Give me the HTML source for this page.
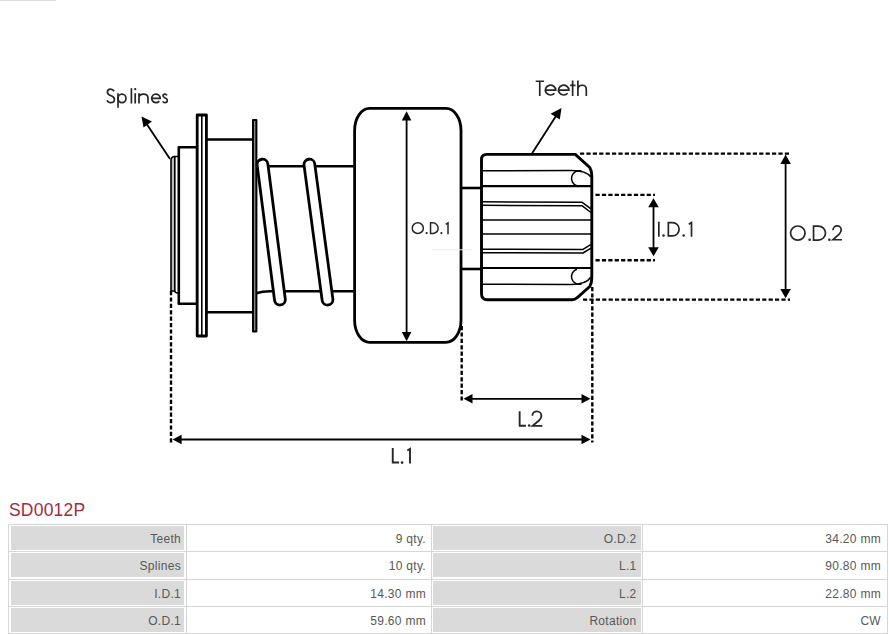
<!DOCTYPE html>
<html><head><meta charset="utf-8">
<style>
html,body{margin:0;padding:0;background:#fff;}
body{width:889px;height:634px;position:relative;overflow:hidden;font-family:"Liberation Sans",sans-serif;}
svg{position:absolute;left:0;top:0;}
.t{position:absolute;white-space:nowrap;}
.title{left:9px;top:500px;font-size:17.5px;letter-spacing:0.2px;color:#a52a3a;}
.hl{position:absolute;left:8px;width:880px;height:1px;background:#d6d6d6;}
.vl{position:absolute;top:524px;width:1px;height:110px;background:#d6d6d6;}
.g{position:absolute;background:#dadada;height:24px;}
.c{position:absolute;font-size:12px;color:#585858;letter-spacing:0.3px;text-align:right;height:24px;line-height:26px;}
</style></head><body>
<svg width="889" height="634" viewBox="0 0 889 634">
<g fill="none" stroke="#000" stroke-linejoin="round">
  <!-- splines strip -->
  <path d="M171 291 L171 160.5 Q171 156.5 174.8 156.5 L174.8 291 Z" fill="#bbb" stroke-width="1.6"/>
  <path d="M174.5 156.5 L178.8 156.5 M174.5 291 Q175.5 293.3 178.8 293.3" stroke-width="1.6"/>
  <!-- hub -->
  <rect x="178.8" y="147.3" width="18.4" height="156.4" stroke-width="2.6"/>
  <!-- thick flange -->
  <rect x="197.2" y="115" width="9.2" height="221" stroke-width="2.8" fill="#fff"/>
  <line x1="201.8" y1="115" x2="201.8" y2="336" stroke-width="1.6"/>
  <!-- cylinder -->
  <line x1="206.4" y1="139.5" x2="252.3" y2="139.5" stroke-width="2.6"/>
  <line x1="206.4" y1="312.2" x2="252.3" y2="312.2" stroke-width="2.6"/>
  <!-- thin flange -->
  <rect x="253" y="120" width="3.4" height="211.5" fill="#888" stroke-width="2"/>
  <!-- shaft -->
  <line x1="256.4" y1="166.2" x2="354.6" y2="166.2" stroke-width="2.6"/>
  <path d="M256.4 293.2 Q262 291.3 270 291.3 L354.6 291.3" stroke-width="2.6"/>
  <!-- coils -->
  <g stroke-linecap="round">
    <line x1="262.5" y1="164.6" x2="279.9" y2="299.6" stroke-width="13.6"/>
    <line x1="262.5" y1="164.6" x2="279.9" y2="299.6" stroke-width="8" stroke="#fff"/>
    <line x1="309.4" y1="164.6" x2="327.5" y2="299.6" stroke-width="13.6"/>
    <line x1="309.4" y1="164.6" x2="327.5" y2="299.6" stroke-width="8" stroke="#fff"/>
  </g>
  <!-- body -->
  <rect x="354.6" y="108.4" width="106.4" height="233.9" rx="15" ry="22" stroke-width="2.8" fill="#fff"/>
  <line x1="432" y1="249.8" x2="472" y2="249.8" stroke="#ececec" stroke-width="1"/>
  <!-- connector -->
  <line x1="461" y1="188" x2="481.5" y2="188" stroke-width="2.6"/>
  <line x1="461" y1="269" x2="481.5" y2="269" stroke-width="2.6"/>
  <!-- gear outline -->
  <path d="M481.5 159.6 Q481.5 154.4 486.7 154.4 L575.3 154.4 L589.8 167.5 Q591.8 171 591.8 176 L591.8 278 Q591.8 283 589.8 286.5 L577 297.8 Q575 299.8 572 299.8 L487.5 299.8 Q481.5 299.8 481.5 293.8 Z" stroke-width="2.9" fill="#fff"/>
  <!-- teeth -->
  <g stroke-width="1.5">
    <path d="M481.5 170.8 L570 170.4 Q586 170 591 177"/>
    <path d="M581.5 171 A7.5 7.5 0 0 0 577 185.8"/>
    <line x1="481.5" y1="186.2" x2="591.8" y2="186.2" stroke-width="2.2"/>
    <path d="M481.5 201.8 L582.2 202.3 L591 208.8"/>
    <path d="M481.5 205.3 L582.2 205.8 L591 212.5"/>
    <line x1="481.5" y1="220" x2="591.8" y2="220"/>
    <line x1="481.5" y1="234" x2="591.8" y2="234"/>
    <path d="M481.5 249.2 L583 249.4 L591 244.4"/>
    <path d="M481.5 252.8 L583 253 L591 248.2"/>
    <line x1="481.5" y1="268" x2="591.8" y2="268" stroke-width="2.2"/>
    <path d="M481.5 284.2 L570 284.5 Q586 284.8 591 277"/>
    <path d="M581.5 284 A7.5 7.5 0 0 1 577 269.2"/>
  </g>
  <!-- dashed lines -->
  <g stroke-width="2.4" stroke-dasharray="4.2 2.2">
    <line x1="580" y1="153.6" x2="790" y2="153.6"/>
    <line x1="583" y1="299.6" x2="790" y2="299.6"/>
    <line x1="595.5" y1="194.9" x2="655" y2="194.9"/>
    <line x1="595.5" y1="260.3" x2="655" y2="260.3"/>
    <line x1="171" y1="291" x2="171" y2="443"/>
    <line x1="461.7" y1="326" x2="461.7" y2="402"/>
    <line x1="592.3" y1="287" x2="592.3" y2="442.5"/>
  </g>
  <!-- dimension lines -->
  <g stroke-width="1.8">
    <line x1="406.6" y1="118" x2="406.6" y2="334"/>
    <line x1="653.5" y1="205" x2="653.5" y2="249"/>
    <line x1="785.6" y1="162" x2="785.6" y2="291"/>
    <line x1="470" y1="398.8" x2="584" y2="398.8"/>
    <line x1="180" y1="439.5" x2="582" y2="439.5" stroke-width="1.8"/>
    <line x1="532" y1="153.5" x2="556" y2="116"/>
    <line x1="170" y1="159" x2="146" y2="123"/>
  </g>
</g>
<g fill="#000">
  <path d="M406.6 111.2 L411.4 120.5 L401.8 120.5 Z"/>
  <path d="M406.6 341.3 L411.4 332 L401.8 332 Z"/>
  <path d="M653.5 198.3 L658.8 207.3 L648.2 207.3 Z"/>
  <path d="M653.5 256.3 L658.8 247.3 L648.2 247.3 Z"/>
  <path d="M785.6 154.6 L790.8 164 L780.4 164 Z"/>
  <path d="M785.6 298.3 L790.8 289 L780.4 289 Z"/>
  <path d="M463.5 398.8 L472.5 394 L472.5 403.6 Z"/>
  <path d="M590.5 398.8 L581.5 394 L581.5 403.6 Z"/>
  <path d="M172.6 439.5 L181.6 434.7 L181.6 444.3 Z"/>
  <path d="M590.5 439.5 L581.5 434.7 L581.5 444.3 Z"/>
  <path d="M561.5 108 L559.8 119.5 L550.6 113.8 Z"/>
  <path d="M141.5 116.5 L152 121.5 L143.5 127.5 Z"/>
</g>
<g fill="none" stroke="#262626" stroke-width="1.7">
  <!-- Splines -->
  <path d="M114.2 91.3 C113.3 89.8 112 89.05 110.6 89.05 C108.6 89.05 107.4 90.4 107.4 92.2 C107.4 94.3 109.3 95.1 111.1 95.8 C113.2 96.6 114.4 97.7 114.4 99.5 C114.4 101.4 112.9 102.65 110.8 102.65 C108.9 102.65 107.6 101.7 107 100.2"/>
  <path d="M118 93.2 V107.7"/>
  <ellipse cx="122" cy="98.35" rx="4" ry="4.3"/>
  <path d="M131.4 88.2 V103.5"/>
  <path d="M135.2 93.2 V103.5"/>
  <path d="M139 93.2 V103.5 M139 97.5 C139 95.2 140.8 94.05 143.5 94.05 C146.2 94.05 148 95.5 148 98 V103.5"/>
  <path d="M151.65 98.35 H160.25 A4.3 4.3 0 1 0 159.3 101.1"/>
  <path d="M167 95.4 C166.5 94.5 165.6 94.05 164.8 94.05 C163.7 94.05 163 94.8 163 95.8 C163 97 164.2 97.5 165.3 98 C166.5 98.5 167.3 99.3 167.3 100.5 C167.3 101.8 166.3 102.65 165 102.65 C163.9 102.65 163.1 102.1 162.7 101.3"/>
  <!-- Teeth -->
  <path d="M535.7 81.25 H544.1 M539.75 81.25 V95.9"/>
  <path d="M545.35 90.15 H555.75 A5.2 4.9 0 1 0 554.5 93.3"/>
  <path d="M558.5 90.15 H568.9 A5.2 4.9 0 1 0 567.65 93.3"/>
  <path d="M572.65 80.4 V95.9 M570.1 85.3 H575.5"/>
  <path d="M577.9 80.4 V95.9 M577.9 89.5 C577.9 86.9 579.8 85.25 582.2 85.25 C584.7 85.25 586.3 86.9 586.3 89.5 V95.9"/>
</g>
<circle cx="135.2" cy="89.2" r="1.15" fill="#262626"/>
<g fill="none" stroke="#262626" stroke-linecap="butt" stroke-linejoin="miter">
  <!-- O.D.1 -->
  <g stroke-width="1.5">
    <ellipse cx="417.8" cy="228.15" rx="5.55" ry="5.3"/>
    <path d="M430.55 222.85 L432.85 222.85 A5.3 5.3 0 0 1 432.85 233.45 L430.55 233.45 Z"/>
    <path d="M445.8 224.3 L448 222.85 V234.2"/>
  </g>
  <!-- I.D.1 -->
  <g stroke-width="1.7">
    <path d="M658.85 221.7 V236.8"/>
    <path d="M668.35 222.55 L672.45 222.55 A6.7 6.7 0 0 1 672.45 235.95 L668.35 235.95 Z"/>
    <path d="M688.8 224.3 L691.5 222.55 V236.8"/>
  </g>
  <!-- O.D.2 -->
  <g stroke-width="1.7">
    <ellipse cx="797.8" cy="233.05" rx="7.25" ry="7.05"/>
    <path d="M813.55 226.05 L818.3 226.05 A7.2 7.0 0 0 1 818.3 240.05 L813.55 240.05 Z"/>
    <path d="M833 230.2 C833 227.5 835 225.85 837.2 225.85 C839.5 225.85 841.2 227.6 841.2 229.9 C841.2 231.6 840.4 232.9 839.2 234.2 L832.9 239.75 L842 239.75"/>
  </g>
  <!-- L.2 -->
  <g stroke-width="1.85">
    <path d="M519.65 411.3 V425.7 H525.9"/>
    <path d="M532.4 415.8 C532.4 413 534.6 411.4 536.9 411.4 C539.4 411.4 541.4 413.3 541.4 415.7 C541.4 417.6 540.6 418.9 539.3 420.2 L532.6 425.8 L542.3 425.8"/>
  </g>
  <!-- L.1 -->
  <g stroke-width="1.9">
    <path d="M392.75 448 V462.55 H399.1"/>
    <path d="M407.3 450.5 L410 448.95 V463.5"/>
  </g>
</g>
<g fill="#262626">
  <circle cx="426.6" cy="233.1" r="1.1"/><circle cx="441.4" cy="233.1" r="1.1"/>
  <circle cx="663.5" cy="235.6" r="1.25"/><circle cx="683.6" cy="235.6" r="1.25"/>
  <circle cx="809.65" cy="239.7" r="1.3"/><circle cx="829.35" cy="239.7" r="1.3"/>
  <circle cx="529.15" cy="425.6" r="1.25"/>
  <circle cx="402.1" cy="462.6" r="1.3"/>
</g>
</svg>

<div style="position:absolute;left:0;top:0;width:56px;height:1px;background:#dcdcdc"></div>
<div class="t title">SD0012P</div>

<div class="hl" style="top:524px"></div>
<div class="hl" style="top:551px"></div>
<div class="hl" style="top:579px"></div>
<div class="hl" style="top:606px"></div>
<div class="hl" style="top:633px"></div>
<div class="vl" style="left:8px"></div>
<div class="vl" style="left:186px"></div>
<div class="vl" style="left:431px"></div>
<div class="vl" style="left:642px"></div>
<div class="vl" style="left:887px"></div>
<div class="g" style="left:11px;width:173px;top:526px"></div>
<div class="g" style="left:433px;width:208px;top:526px"></div>
<div class="g" style="left:11px;width:173px;top:553px"></div>
<div class="g" style="left:433px;width:208px;top:553px"></div>
<div class="g" style="left:11px;width:173px;top:581px"></div>
<div class="g" style="left:433px;width:208px;top:581px"></div>
<div class="g" style="left:11px;width:173px;top:608px"></div>
<div class="g" style="left:433px;width:208px;top:608px"></div>
<div class="c" style="left:11px;width:170px;top:526px">Teeth</div>
<div class="c" style="left:186px;width:240px;top:526px">9 qty.</div>
<div class="c" style="left:433px;width:203.5px;top:526px">O.D.2</div>
<div class="c" style="left:643px;width:238px;top:526px">34.20 mm</div>
<div class="c" style="left:11px;width:170px;top:553px">Splines</div>
<div class="c" style="left:186px;width:240px;top:553px">10 qty.</div>
<div class="c" style="left:433px;width:203.5px;top:553px">L.1</div>
<div class="c" style="left:643px;width:238px;top:553px">90.80 mm</div>
<div class="c" style="left:11px;width:170px;top:581px">I.D.1</div>
<div class="c" style="left:186px;width:240px;top:581px">14.30 mm</div>
<div class="c" style="left:433px;width:203.5px;top:581px">L.2</div>
<div class="c" style="left:643px;width:238px;top:581px">22.80 mm</div>
<div class="c" style="left:11px;width:170px;top:608px">O.D.1</div>
<div class="c" style="left:186px;width:240px;top:608px">59.60 mm</div>
<div class="c" style="left:433px;width:203.5px;top:608px">Rotation</div>
<div class="c" style="left:643px;width:238px;top:608px">CW</div>
</body></html>
